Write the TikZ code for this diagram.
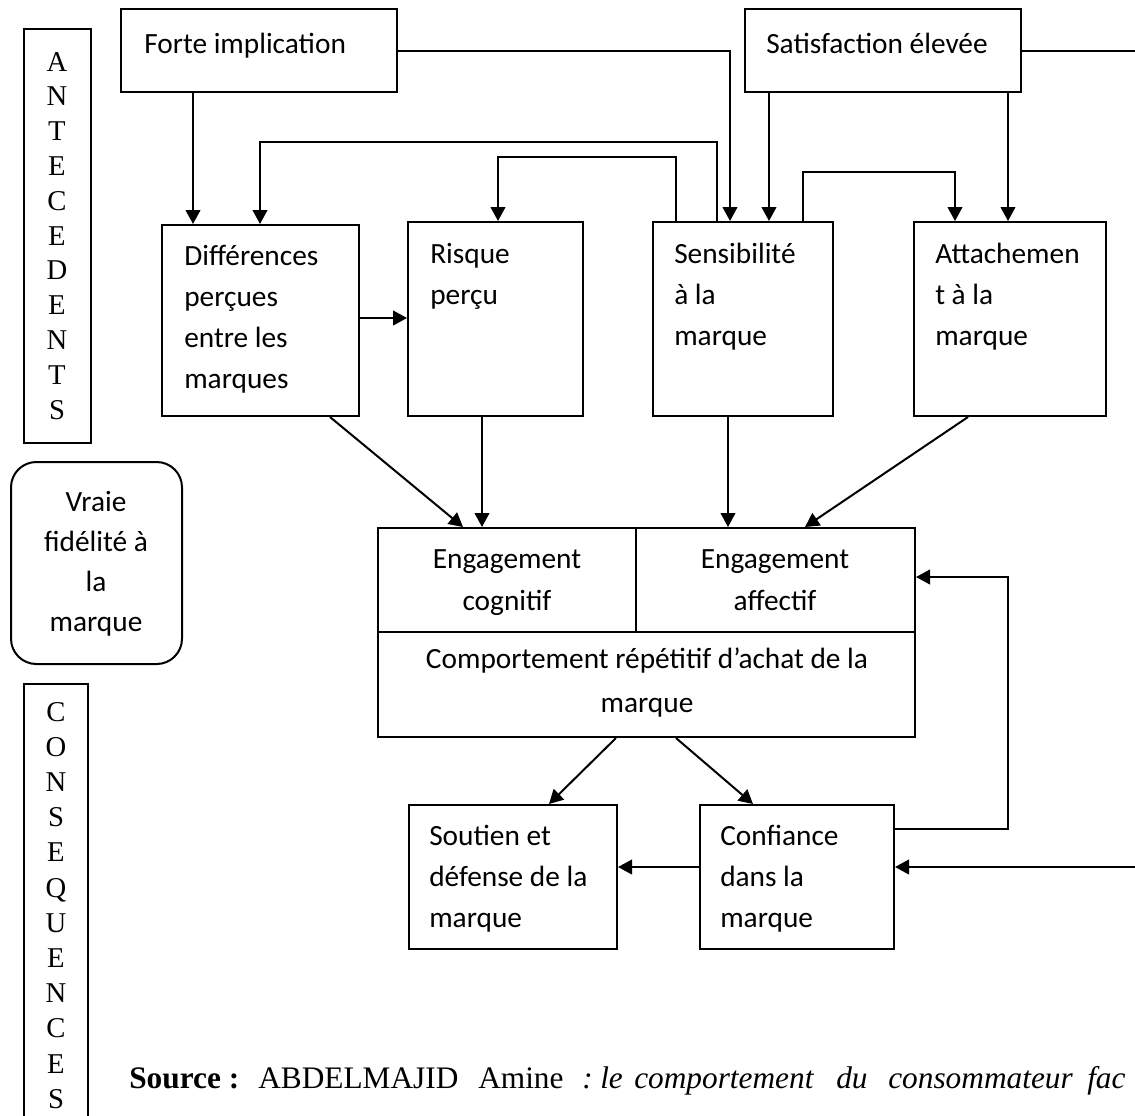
\documentclass[tikz,border=0pt]{standalone}
\usepackage{fontspec}
\setmainfont{Liberation Serif}
\newfontfamily\calib{Carlito}
\usetikzlibrary{arrows.meta,fit}

\begin{document}
\begin{tikzpicture}[x=0.75pt,y=-0.75pt,
  box/.style={draw,line width=1.5pt,inner sep=0pt,rectangle},
  lt/.style={anchor=base west,inner sep=0pt,font=\calib\fontsize{22pt}{30pt}\selectfont},
  ct/.style={lt,anchor=base},
  letter/.style={anchor=base,inner sep=0pt,font=\fontsize{21.5pt}{25pt}\selectfont},
  src/.style={anchor=base west,inner sep=0pt,font=\fontsize{23.5pt}{28pt}\selectfont},
  link/.style={line width=1.5pt},
  arr/.style={link,-{Triangle[length=10.5pt,width=11pt]}}]

\useasboundingbox (0,0) rectangle (1135,1115);
\clip (0,0) rectangle (1135,1115);

% guide coordinates for connector columns and rows
\foreach \v in {193,260,330,463,482,498,549,616,636,676,717,728,730,753,769,803,805,955,968,1008,1160}
  \coordinate (x\v) at (\v,0);
\foreach \v in {142,157,172,318,577,829,867}
  \coordinate (y\v) at (0,\v);

% side labels
\node[box,fit={(24,29) (91,443)}] (ant) {};
\foreach \c [count=\i] in {A,N,T,E,C,E,D,E,N,T,S}
  \node[letter] (ant-\i) at (57,{71+34.8*(\i-1)}) {\c};

\node[box,rounded corners=19pt,fit={(11,462) (182,664)}] (vraie) {};
\foreach \s [count=\i] in {Vraie,fidélité à,la,marque}
  \node[ct] (vraie-\i) at (96,{511+40*(\i-1)}) {\s};

\node[box,fit={(24,684) (88,1140)}] (cons) {};
\foreach \c [count=\i] in {C,O,N,S,E,Q,U,E,N,C,E,S}
  \node[letter] (cons-\i) at (56,{721+35.2*(\i-1)}) {\c};

% antecedents
\node[box,fit={(121,9) (397,92)}] (forte) {};
\node[lt] (forte-t) at (144,53) {Forte implication};
\node[box,fit={(745,9) (1021,92)}] (sat) {};
\node[lt] (sat-t) at (766,53) {Satisfaction élevée};

% intermediate constructs
\node[box,fit={(162,225) (359,416)}] (diff) {};
\foreach \s [count=\i] in {Différences,perçues,entre les,marques}
  \node[lt] (diff-\i) at (184,{265+41*(\i-1)}) {\s};

\node[box,fit={(408,222) (583,416)}] (risk) {};
\foreach \s [count=\i] in {Risque,perçu}
  \node[lt] (risk-\i) at (430,{263+41*(\i-1)}) {\s};

\node[box,fit={(653,222) (833,416)}] (sens) {};
\foreach \s [count=\i] in {Sensibilité,à la,marque}
  \node[lt] (sens-\i) at (674,{263+41*(\i-1)}) {\s};

\node[box,fit={(914,222) (1106,416)}] (att) {};
\foreach \s [count=\i] in {Attachemen,t à la,marque}
  \node[lt] (att-\i) at (935,{263+41*(\i-1)}) {\s};

% true loyalty core
\node[box,fit={(378,528) (636,632)}] (engcog) {};
\node[ct] (engcog-1) at (507,568) {Engagement};
\node[ct] (engcog-2) at (507,610) {cognitif};
\node[box,fit={(636,528) (915,632)}] (engaff) {};
\node[ct] (engaff-1) at (775,568) {Engagement};
\node[ct] (engaff-2) at (775,610) {affectif};
\node[box,fit={(378,632) (915,737)}] (comp) {};
\node[ct] (comp-1) at (647,668) {Comportement répétitif d’achat de la};
\node[ct] (comp-2) at (647,712) {marque};

% consequences
\node[box,fit={(409,805) (617,949)}] (sout) {};
\foreach \s [count=\i] in {Soutien et,défense de la,marque}
  \node[lt] (sout-\i) at (429,{845+41*(\i-1)}) {\s};

\node[box,fit={(700,805) (894,949)}] (conf) {};
\foreach \s [count=\i] in {Confiance,dans la,marque}
  \node[lt] (conf-\i) at (720,{845+41*(\i-1)}) {\s};

% connectors from antecedents
\draw[arr] (forte.south -| x193) -- (diff.north -| x193);
\draw[arr] (forte.east) -| (sens.north -| x730);
\draw[arr] (sat.south -| x769) -- (sens.north -| x769);
\draw[arr] (sat.south -| x1008) -- (att.north -| x1008);
\draw[arr] (sat.east) -| (y867 -| x1160) -- (conf.east |- y867);

% feedback from brand sensitivity
\draw[arr] (sens.north -| x717) |- (y142 -| x260) -- (diff.north -| x260);
\draw[arr] (sens.north -| x676) |- (y157 -| x498) -- (risk.north -| x498);
\draw[arr] (sens.north -| x803) |- (y172 -| x955) -- (att.north -| x955);
\draw[arr] (diff.east |- y318) -- (risk.west |- y318);

% into commitment
\draw[arr] (diff.south -| x330) -- (engcog.north -| x463);
\draw[arr] (risk.south -| x482) -- (engcog.north -| x482);
\draw[arr] (sens.south -| x728) -- (engaff.north -| x728);
\draw[arr] (att.south -| x968) -- (engaff.north -| x805);

% outcomes
\draw[arr] (comp.south -| x616) -- (sout.north -| x549);
\draw[arr] (comp.south -| x676) -- (conf.north -| x753);
\draw[arr] (conf.west |- y867) -- (sout.east |- y867);
\draw[arr] (conf.east |- y829) -| (y577 -| x1008) -- (engaff.east |- y577);

% source line (justified words)
\node[src] (s1) at (129,1088) {\textbf{Source :}};
\node[src] (s2) at (258,1088) {ABDELMAJID};
\node[src] (s3) at (478,1088) {Amine};
\node[src] (s4) at (582,1088) {\textit{:}};
\node[src] (s5) at (600,1088) {\textit{le}};
\node[src] (s6) at (634,1088) {\textit{comportement}};
\node[src] (s7) at (836,1088) {\textit{du}};
\node[src] (s8) at (888,1088) {\textit{consommateur}};
\node[src] (s9) at (1087,1088) {\textit{fac}};
\end{tikzpicture}
\end{document}
